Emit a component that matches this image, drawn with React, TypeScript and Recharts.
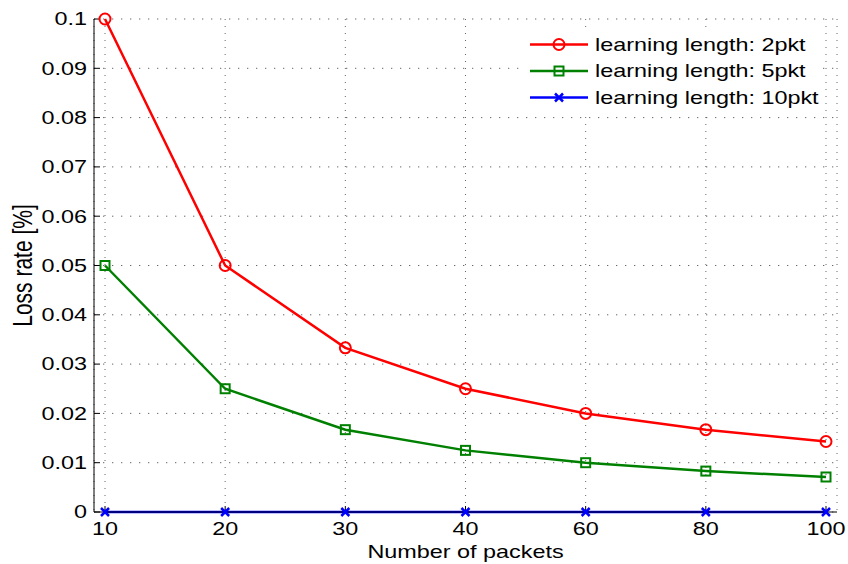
import React from "react";
import { LineChart, Line, XAxis, YAxis, CartesianGrid, Legend } from "recharts";

const packets = ["10", "20", "30", "40", "60", "80", "100"];
const loss2pkt = [0.1, 0.05, 0.0333, 0.025, 0.02, 0.0167, 0.0143];
const loss5pkt = [0.05, 0.025, 0.0167, 0.0125, 0.01, 0.0083, 0.0071];
const loss10pkt = [0, 0, 0, 0, 0, 0, 0];
const yTicks = [0, 0.01, 0.02, 0.03, 0.04, 0.05, 0.06, 0.07, 0.08, 0.09, 0.1];

const series = [
  { key: "l2", name: "learning length: 2pkt", color: "#ff0000", shape: "circle" },
  { key: "l5", name: "learning length: 5pkt", color: "#008000", shape: "square" },
  { key: "l10", name: "learning length: 10pkt", color: "#0000ff", shape: "x" },
];

const data = packets.map((p, i) => ({
  packets: p,
  l2: loss2pkt[i],
  l5: loss5pkt[i],
  l10: loss10pkt[i],
}));

const FONT = "'Liberation Sans', Arial, Helvetica, sans-serif";
const SX = 1.3; // the original figure is stretched sideways

const StretchText = (props: any) => {
  const { x, y, anchor, dy, size, children } = props;
  return (
    <g transform={`translate(${x},${y}) scale(${SX},1)`}>
      <text x={0} y={0} dy={dy} textAnchor={anchor} fontFamily={FONT} fontSize={size} fill="#000">
        {children}
      </text>
    </g>
  );
};

const fmtY = (v: number) => (v === 0 ? "0" : String(+v.toFixed(2)));

const XTick = (props: any) => (
  <StretchText x={props.x} y={props.y} anchor="middle" dy="0.71em" size={18}>
    {props.payload.value}
  </StretchText>
);

const YTick = (props: any) => (
  <StretchText x={props.x} y={props.y} anchor="end" dy="0.355em" size={18}>
    {fmtY(props.payload.value)}
  </StretchText>
);

const Marker = (props: any) => {
  const { cx, cy, shape, color } = props;
  if (cx == null || cy == null) return <g />;
  if (shape === "circle") {
    return <circle cx={cx} cy={cy} r={5.5} fill="none" stroke={color} strokeWidth={2} />;
  }
  if (shape === "square") {
    return <rect x={cx - 4.5} y={cy - 4.5} width={9} height={9} fill="none" stroke={color} strokeWidth={2} />;
  }
  return (
    <path
      d={`M${cx - 4},${cy - 4}L${cx + 4},${cy + 4}M${cx - 4},${cy + 4}L${cx + 4},${cy - 4}`}
      stroke={color}
      strokeWidth={2.5}
      fill="none"
    />
  );
};

const LegendBox = () => (
  <svg width={304} height={82} style={{ display: "block" }}>
    <rect x={0} y={0} width={304} height={82} fill="#fff" />
    {series.map((s, i) => {
      const cy = 15.5 + i * 26.5;
      return (
        <g key={s.key}>
          <line x1={11} x2={69} y1={cy} y2={cy} stroke={s.color} strokeWidth={2.5} />
          <Marker cx={40} cy={cy} shape={s.shape} color={s.color} />
          <StretchText x={76} y={cy} anchor="start" dy="0.355em" size={18}>
            {s.name}
          </StretchText>
        </g>
      );
    })}
  </svg>
);

const XTitle = (props: any) => {
  const vb = props.viewBox;
  return (
    <StretchText x={vb.x + vb.width / 2} y={vb.y + 46} anchor="middle" dy={0} size={18}>
      Number of packets
    </StretchText>
  );
};

const YTitle = (props: any) => {
  const vb = props.viewBox;
  const cx = vb.x + 22;
  const cy = vb.y + vb.height / 2;
  return (
    <g transform={`translate(${cx},${cy}) scale(${SX},1) rotate(-90)`}>
      <text x={0} y={0} dy="0.355em" textAnchor="middle" fontFamily={FONT} fontSize={21} fill="#000">
        Loss rate [%]
      </text>
    </g>
  );
};

export default function App() {
  return (
    <div style={{ position: "absolute", left: 0, top: 0, background: "#fff" }}>
      <LineChart width={848} height={564} data={data} margin={{ top: 19, right: 11, bottom: 0, left: 0 }}>
        <CartesianGrid horizontal={false} stroke="#666" strokeDasharray="1 6" />
        <CartesianGrid vertical={false} stroke="#666" strokeDasharray="1.3 7.7" />
        <XAxis
          dataKey="packets"
          height={52}
          padding={{ left: 11, right: 11 }}
          interval={0}
          tickSize={-6}
          tickMargin={16}
          stroke="#000"
          tick={<XTick />}
          label={{ content: <XTitle /> } as any}
        />
        <XAxis
          xAxisId="top"
          orientation="top"
          dataKey="packets"
          height={0}
          padding={{ left: 11, right: 11 }}
          interval={0}
          tickSize={-6}
          stroke="#000"
          tick={false}
        />
        <YAxis
          domain={[0, 0.1]}
          ticks={yTicks}
          interval={0}
          width={94}
          tickSize={-6}
          tickMargin={13}
          stroke="#000"
          tick={<YTick />}
          label={{ content: <YTitle /> } as any}
        />
        <YAxis
          yAxisId="right"
          orientation="right"
          domain={[0, 0.1]}
          ticks={yTicks}
          interval={0}
          width={0}
          tickSize={-6}
          stroke="#000"
          tick={false}
        />
        {series.map((s) => (
          <Line
            key={s.key}
            type="linear"
            dataKey={s.key}
            name={s.name}
            stroke={s.color}
            strokeWidth={2.5}
            isAnimationActive={false}
            activeDot={false}
            dot={(p: any) => <Marker key={`${s.key}-${p.index}`} cx={p.cx} cy={p.cy} shape={s.shape} color={s.color} />}
          />
        ))}
        <Legend
          layout="horizontal"
          verticalAlign="middle"
          align="center"
          wrapperStyle={{ left: 519, top: 29, width: 304, height: 82 }}
          content={() => <LegendBox />}
        />
      </LineChart>
    </div>
  );
}
